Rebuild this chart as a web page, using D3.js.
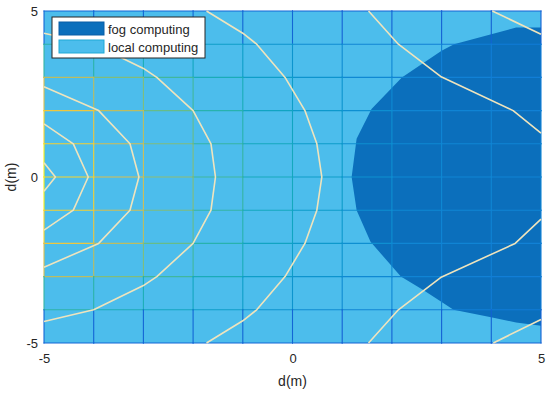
<!DOCTYPE html>
<html>
<head>
<meta charset="utf-8">
<script src="https://cdn.jsdelivr.net/npm/d3@7"></script>
<style>
    body { margin: 0; background: #fff; }
    text { font-family: 'Liberation Sans', Arial, sans-serif; fill: #262626; }
</style>
</head>
<body>
<svg id="chart" width="550" height="396"></svg>
<script>
'use strict';

// grid nodes of the mesh
const gridX = [-5, -4, -3, -2, -1, 0, 1, 2, 3, 4, 5];
const gridY = [5, 4, 3, 2, 1, 0, -1, -2, -3, -4, -5];

// colour index (0..1, parula) of the mesh at every node, rows follow gridY
const meshZ = [
    [0.16, 0.16, 0.16, 0.16, 0.16, 0.16, 0.15, 0.15, 0.15, 0.15, 0.15],
    [0.50, 0.48, 0.44, 0.40, 0.36, 0.32, 0.29, 0.27, 0.25, 0.24, 0.23],
    [0.78, 0.72, 0.62, 0.52, 0.43, 0.36, 0.32, 0.28, 0.26, 0.25, 0.24],
    [0.90, 0.84, 0.72, 0.58, 0.47, 0.39, 0.34, 0.30, 0.27, 0.26, 0.25],
    [0.97, 0.88, 0.76, 0.62, 0.50, 0.41, 0.35, 0.30, 0.28, 0.27, 0.26],
    [1.00, 0.90, 0.78, 0.64, 0.52, 0.42, 0.36, 0.31, 0.28, 0.27, 0.26],
    [0.97, 0.88, 0.76, 0.62, 0.50, 0.41, 0.35, 0.30, 0.28, 0.27, 0.26],
    [0.90, 0.84, 0.72, 0.58, 0.47, 0.39, 0.34, 0.30, 0.27, 0.26, 0.25],
    [0.78, 0.72, 0.62, 0.52, 0.43, 0.36, 0.32, 0.28, 0.26, 0.25, 0.24],
    [0.50, 0.48, 0.44, 0.40, 0.36, 0.32, 0.29, 0.27, 0.25, 0.24, 0.23],
    [0.16, 0.16, 0.16, 0.16, 0.16, 0.16, 0.15, 0.15, 0.15, 0.15, 0.15]
];

// boundary of the region where fog computing wins
const fogRegion = [
    [5, 4.5], [4.5, 4.5], [4, 4.3], [3.25, 4], [3, 3.8], [2.2, 3], [1.59, 2.05],
    [1.29, 1.15], [1.19, 0], [1.29, -1], [1.57, -1.95], [2.18, -3], [2.63, -3.4],
    [3.24, -4], [3.97, -4.22], [4.5, -4.38], [5, -4.48]
];

// contour lines
const contourLines = [
    [[-5, 0.43], [-4.77, 0], [-5, -0.43]],
    [[-5, 1.6], [-4.41, 1], [-4.11, 0], [-4.41, -1], [-5, -1.6]],
    [[-5, 2.72], [-3.9, 2], [-3.27, 1], [-3.09, 0], [-3.27, -1], [-3.9, -2], [-5, -2.72]],
    [[-5, 4.33], [-4, 4], [-3, 3.27], [-2.73, 3], [-2, 2], [-1.64, 1], [-1.55, 0],
        [-1.64, -1], [-2, -2], [-2.73, -3], [-3, -3.27], [-4, -4], [-5, -4.35]],
    [[-1.73, 5], [-1, 4.33], [-0.72, 4], [-0.15, 3], [0.25, 2], [0.49, 1], [0.59, 0],
        [0.49, -1], [0.25, -2], [-0.15, -3], [-0.72, -4], [-1, -4.33], [-1.73, -5]],
    [[1.53, 5], [2.13, 4], [2.98, 3.03], [4.44, 2], [5, 1.32]],
    [[5, -1.27], [4.48, -2], [2.98, -3.03], [2.13, -4], [1.53, -5]],
    [[4.02, 5], [5, 4.3]],
    [[4.04, -5], [5, -4.29]]
];

const xTicks = [-5, 0, 5];
const yTicks = [-5, 0, 5];
const legendItems = ['fog computing', 'local computing'];

const parula = d3.interpolateRgbBasis(['#352a87', '#0f5cdd', '#1481d6', '#06a4ca', '#2eb7a4',
    '#87bf77', '#d1bb59', '#fec832', '#f9fb0e']);

const svg = d3.select('#chart');
const x = d3.scaleLinear().domain([-5, 5]).range([44, 541]);
const y = d3.scaleLinear().domain([-5, 5]).range([343, 11]);

const fogColor = '#0b6fbc';
const localColor = '#4cbdec';

// local computing everywhere, fog on top
svg.append('rect')
    .attr('x', x(-5)).attr('y', y(5))
    .attr('width', x(5) - x(-5)).attr('height', y(-5) - y(5))
    .attr('fill', localColor);

svg.append('path')
    .datum(fogRegion)
    .attr('fill', fogColor)
    .attr('d', d3.line().x(d => x(d[0])).y(d => y(d[1])));

// mesh segments, each coloured by its lower node
const segments = [];
gridY.forEach((gy, j) => gridX.forEach((gx, i) => {
    if (i < gridX.length - 1)
        segments.push({x1: gx, y1: gy, x2: gridX[i + 1], y2: gy, z: Math.min(meshZ[j][i], meshZ[j][i + 1])});
    if (j < gridY.length - 1)
        segments.push({x1: gx, y1: gy, x2: gx, y2: gridY[j + 1], z: Math.min(meshZ[j][i], meshZ[j + 1][i])});
}));

svg.append('g')
    .attr('stroke-width', 1.1)
    .attr('stroke-linecap', 'square')
    .selectAll('line')
    .data(segments)
    .join('line')
    .attr('x1', d => x(d.x1))
    .attr('y1', d => y(d.y1))
    .attr('x2', d => x(d.x2))
    .attr('y2', d => y(d.y2))
    .attr('stroke', d => parula(d.z));

svg.append('g')
    .attr('fill', 'none')
    .attr('stroke', '#efe4bd')
    .attr('stroke-width', 1.6)
    .attr('stroke-linejoin', 'round')
    .selectAll('path')
    .data(contourLines)
    .join('path')
    .attr('d', d3.line().x(d => x(d[0])).y(d => y(d[1])));

// axes
const xAxis = svg.append('g')
    .attr('transform', `translate(0,${y(-5)})`)
    .call(d3.axisBottom(x).tickValues(xTicks).tickSize(0).tickPadding(11).tickFormat(d3.format('d')));
const yAxis = svg.append('g')
    .attr('transform', `translate(${x(-5)},0)`)
    .call(d3.axisLeft(y).tickValues(yTicks).tickSize(0).tickPadding(6).tickFormat(d3.format('d')));

[xAxis, yAxis].forEach(ax => {
    ax.select('.domain').remove();
    ax.selectAll('text')
        .attr('font-size', 13)
        .attr('font-family', "'Liberation Sans', Arial, sans-serif")
        .attr('fill', '#262626')
        .text(d => String(d).replace('\u2212', '-'));
});

svg.append('text')
    .attr('x', x(0))
    .attr('y', 386)
    .attr('text-anchor', 'middle')
    .attr('font-size', 14)
    .text('d(m)');

svg.append('text')
    .attr('transform', `translate(16,${y(0)}) rotate(-90)`)
    .attr('text-anchor', 'middle')
    .attr('font-size', 14)
    .text('d(m)');

// legend
const legend = svg.append('g').attr('transform', 'translate(52,17)');
legend.append('rect')
    .attr('width', 153).attr('height', 41)
    .attr('fill', '#fff')
    .attr('stroke', '#262626')
    .attr('stroke-width', 1);

const item = legend.selectAll('g.item')
    .data(legendItems)
    .join('g')
    .attr('class', 'item')
    .attr('transform', (d, i) => `translate(7,${5 + i * 18})`);

item.append('rect')
    .attr('width', 45).attr('height', 13)
    .attr('fill', (d, i) => i === 0 ? fogColor : localColor)
    .attr('stroke', (d, i) => i === 0 ? '#0a5ea6' : '#1ea9d6')
    .attr('stroke-width', 1);

item.append('text')
    .attr('x', 49)
    .attr('y', 11.5)
    .attr('font-size', 13)
    .text(d => d);
</script>
</body>
</html>
